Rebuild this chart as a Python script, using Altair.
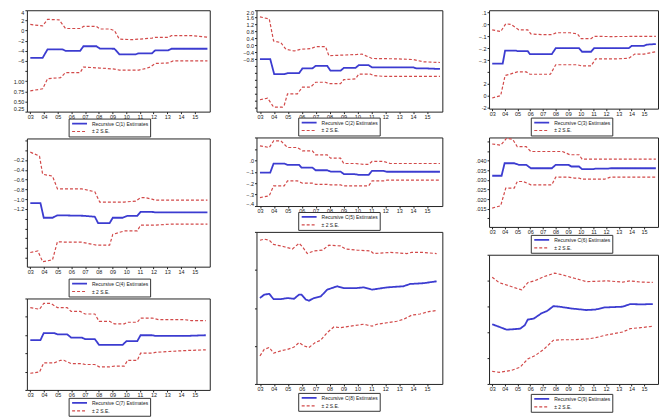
import altair as alt
import pandas as pd

YEAR_TICKS = list(range(2003, 2016))
X_DOMAIN = [2002.75, 2016.1]
BLUE = "#3c3cd0"
RED = "#d24a4a"
SE_LABEL = "± 2 S.E."
FONT = "Liberation Sans"

# ---- C(1)
C1_EST = [(2003.0, -5.4), (2003.9, -5.4), (2004.26, -3.7), (2005.33, -3.7), (2005.57, -4.0), (2006.64, -4.0),
          (2006.88, -3.1), (2007.83, -3.1), (2008.07, -3.55), (2009.14, -3.6), (2009.5, -4.7), (2010.69, -4.7),
          (2010.9, -4.5), (2011.88, -4.5), (2012.12, -3.9), (2013.07, -3.9), (2013.31, -3.6), (2015.93, -3.6)]
C1_UP = [(2003.0, 1.2), (2003.9, 0.9), (2004.26, 2.2), (2005.1, 2.1), (2005.57, 0.4), (2006.64, 0.4),
         (2006.88, 0.8), (2007.83, 0.8), (2008.07, 0.3), (2008.79, 0.3), (2009.14, 0.0), (2009.5, -1.7),
         (2010.45, -1.8), (2011.88, -1.5), (2012.12, -1.35), (2013.07, -1.35), (2013.31, -1.0), (2014.74, -1.0),
         (2015.93, -1.3)]
C1_LO = [(2003.0, -11.9), (2003.9, -11.5), (2004.26, -9.5), (2005.21, -9.3), (2005.57, -8.3), (2006.64, -8.3),
         (2006.88, -7.2), (2008.07, -7.4), (2009.14, -7.6), (2009.5, -7.8), (2010.93, -7.8), (2011.4, -7.5),
         (2011.76, -7.2), (2012.12, -6.5), (2013.07, -6.4), (2013.43, -6.0), (2015.93, -6.0)]
C1_TICKS = [4, 2, 0, -2, -4, -6, -8, -10, -12, -14, -16]
C1_GHOST = [(-10, "1.00"), (-12, "0.75"), (-14, "0.50"), (-16, "0.25")]

# ---- C(2)
C2_EST = [(2003, -0.8), (2003.74, -0.8), (2004.02, -1.65), (2004.74, -1.65), (2004.98, -1.6), (2005.81, -1.6),
          (2006.05, -1.33), (2006.76, -1.33), (2007.0, -1.18), (2007.83, -1.18), (2008.07, -1.46), (2008.79, -1.46),
          (2009.02, -1.3), (2009.86, -1.3), (2010.1, -1.14), (2010.81, -1.14), (2011.05, -1.27), (2014.02, -1.27),
          (2014.26, -1.33), (2014.98, -1.33), (2015.93, -1.36)]
C2_UP = [(2003, 1.62), (2003.67, 1.5), (2003.98, 0.24), (2004.5, 0.15), (2004.86, -0.23), (2005.45, -0.33),
         (2005.93, -0.23), (2006.64, -0.2), (2007.0, -0.08), (2007.71, -0.08), (2007.95, -0.6), (2009.14, -0.56),
         (2009.98, -0.53), (2010.33, -0.51), (2011.05, -0.76), (2012.83, -0.78), (2014.02, -0.82), (2014.74, -0.95),
         (2015.93, -0.99)]
C2_LO = [(2003, -3.12), (2003.55, -3.03), (2003.98, -3.54), (2004.62, -3.54), (2004.74, -3.44), (2004.98, -2.78),
         (2005.69, -2.78), (2006.05, -2.4), (2006.64, -2.4), (2007.0, -2.12), (2007.71, -2.12), (2007.95, -2.2),
         (2008.79, -2.2), (2009.02, -1.97), (2009.86, -1.93), (2010.1, -1.65), (2010.93, -1.65), (2011.17, -1.74),
         (2011.88, -1.78), (2015.93, -1.78)]
C2_TICKS = [2.0, 1.6, 1.2, 0.8, 0.4, 0.0, -0.4, -0.8, -1.2, -1.6, -2.0, -2.4, -2.8, -3.2, -3.6]

# ---- C(3)
C3_EST = [(2003, -0.33), (2003.83, -0.33), (2004.02, -0.22), (2004.86, -0.22), (2005.0, -0.225), (2005.81, -0.225),
          (2005.98, -0.25), (2007.71, -0.25), (2008.02, -0.2), (2009.86, -0.2), (2010.1, -0.23), (2010.81, -0.23),
          (2011.05, -0.2), (2013.79, -0.2), (2014.02, -0.18), (2014.98, -0.18), (2015.21, -0.17), (2015.93, -0.165)]
C3_UP = [(2003, -0.045), (2003.67, -0.06), (2004.07, 0.006), (2004.5, 0.0), (2005.1, -0.045), (2005.81, -0.045),
         (2006.05, -0.08), (2006.88, -0.085), (2007.71, -0.085), (2008.07, -0.07), (2009.14, -0.07), (2009.74, -0.08),
         (2010.02, -0.12), (2010.81, -0.12), (2011.05, -0.1), (2012.36, -0.102), (2015.93, -0.1)]
C3_LO = [(2003, -0.62), (2003.67, -0.6), (2004.02, -0.43), (2004.38, -0.42), (2004.98, -0.4), (2005.69, -0.4),
         (2005.98, -0.42), (2007.6, -0.42), (2008.02, -0.34), (2009.74, -0.34), (2010.1, -0.35), (2010.81, -0.35),
         (2011.17, -0.29), (2012.83, -0.29), (2013.79, -0.285), (2014.26, -0.25), (2014.98, -0.25), (2015.93, -0.23)]
C3_TICKS = [0.1, 0.0, -0.1, -0.2, -0.3, -0.4, -0.5, -0.6, -0.7]
C3_GHOST = [(-0.5, "2"), (-0.6, "0"), (-0.7, "-2")]

# ---- C(4)
C4_EST = [(2003, -1.08), (2003.74, -1.08), (2003.98, -1.38), (2004.62, -1.38), (2004.98, -1.33), (2006.88, -1.34),
          (2007.71, -1.36), (2007.95, -1.49), (2008.79, -1.49), (2009.02, -1.38), (2009.74, -1.38), (2010.1, -1.34),
          (2010.81, -1.34), (2011.05, -1.26), (2011.88, -1.26), (2012.12, -1.27), (2015.93, -1.27)]
C4_UP = [(2003, -0.04), (2003.67, -0.12), (2003.9, -0.49), (2004.62, -0.53), (2004.98, -0.79), (2006.76, -0.79),
         (2007.71, -0.85), (2008.07, -1.06), (2009.86, -1.06), (2010.69, -1.04), (2011.05, -0.97), (2011.4, -0.97),
         (2011.88, -1.0), (2012.12, -1.02), (2015.93, -1.02)]
C4_LO = [(2003, -2.09), (2003.55, -2.06), (2003.9, -2.28), (2004.62, -2.24), (2004.98, -1.87), (2005.69, -1.88),
         (2006.76, -1.88), (2007.83, -1.94), (2008.79, -1.94), (2009.02, -1.72), (2009.86, -1.65), (2010.81, -1.65),
         (2011.05, -1.53), (2012.12, -1.53), (2013.31, -1.51), (2015.93, -1.51)]
C4_TICKS = [0.2, 0.0, -0.2, -0.4, -0.6, -0.8, -1.0, -1.2, -1.4, -1.6, -1.8, -2.0, -2.2]

# ---- C(5)
C5_EST = [(2003, -0.107), (2003.74, -0.107), (2003.98, -0.028), (2004.74, -0.028), (2004.98, -0.04), (2005.81, -0.04),
          (2005.98, -0.063), (2006.76, -0.063), (2007.0, -0.087), (2007.83, -0.087), (2008.07, -0.098),
          (2008.79, -0.098), (2009.02, -0.12), (2009.74, -0.12), (2010.1, -0.127), (2010.81, -0.127),
          (2011.05, -0.092), (2011.88, -0.092), (2012.12, -0.1), (2015.93, -0.1)]
C5_UP = [(2003, 0.127), (2003.67, 0.112), (2003.98, 0.17), (2004.5, 0.17), (2004.98, 0.112), (2005.69, 0.112),
         (2006.05, 0.083), (2006.76, 0.083), (2007.0, 0.048), (2007.83, 0.048), (2008.07, 0.019), (2008.79, 0.019),
         (2009.02, -0.028), (2009.86, -0.028), (2010.45, -0.035), (2010.81, -0.035), (2011.05, -0.01),
         (2011.88, -0.01), (2012.36, -0.028), (2015.93, -0.028)]
C5_LO = [(2003, -0.326), (2003.67, -0.31), (2003.98, -0.224), (2004.74, -0.224), (2004.98, -0.18), (2005.69, -0.18),
         (2006.05, -0.2), (2006.76, -0.2), (2007.0, -0.21), (2007.83, -0.21), (2008.07, -0.215), (2008.79, -0.215),
         (2009.02, -0.224), (2010.81, -0.224), (2011.05, -0.18), (2011.88, -0.18), (2012.12, -0.174),
         (2015.93, -0.174)]
C5_TICKS = [0.2, 0.1, 0.0, -0.1, -0.2, -0.3, -0.4]

# ---- C(6)
C6_EST = [(2003, 0.0321), (2003.74, 0.0321), (2003.98, 0.0386), (2004.74, 0.0386), (2005.1, 0.0378),
          (2005.69, 0.0378), (2006.05, 0.036), (2007.71, 0.036), (2008.02, 0.0378), (2009.02, 0.0378),
          (2009.26, 0.0369), (2009.86, 0.0369), (2010.1, 0.0355), (2010.93, 0.0355), (2011.17, 0.0358),
          (2012.12, 0.0358), (2012.36, 0.036), (2015.93, 0.036)]
C6_UP = [(2003, 0.0486), (2003.67, 0.048), (2004.14, 0.0516), (2004.62, 0.051), (2004.98, 0.0472), (2005.69, 0.0472),
         (2006.05, 0.0447), (2007.71, 0.0447), (2008.55, 0.0447), (2009.14, 0.043), (2009.86, 0.043),
         (2010.1, 0.0407), (2015.93, 0.0407)]
C6_LO = [(2003, 0.0153), (2003.67, 0.0165), (2004.07, 0.0257), (2004.74, 0.0257), (2004.98, 0.0291),
         (2005.45, 0.0291), (2006.05, 0.0274), (2007.71, 0.0274), (2008.02, 0.0314), (2009.02, 0.0314),
         (2009.5, 0.0309), (2009.86, 0.0309), (2010.1, 0.0303), (2011.88, 0.0303), (2012.36, 0.0314),
         (2015.93, 0.0314)]
C6_TICKS = [0.010, 0.015, 0.020, 0.025, 0.030, 0.035, 0.040, 0.045, 0.050]

# ---- C(7)
C7_EST = [(2003, 2.72), (2003.74, 2.72), (2003.98, 3.11), (2004.74, 3.11), (2004.98, 3.04), (2005.69, 3.04),
          (2005.98, 2.86), (2006.76, 2.86), (2007.0, 2.78), (2007.71, 2.78), (2008.02, 2.46), (2009.74, 2.46),
          (2010.02, 2.67), (2010.81, 2.67), (2011.05, 2.99), (2011.88, 2.99), (2012.12, 2.95), (2014.26, 2.95),
          (2015.81, 2.99)]
C7_UP = [(2003, 4.5), (2003.67, 4.41), (2003.98, 4.73), (2004.5, 4.73), (2004.98, 4.5), (2005.69, 4.5),
         (2005.98, 4.29), (2006.64, 4.29), (2007.0, 4.15), (2007.71, 4.15), (2008.02, 3.75), (2008.79, 3.75),
         (2009.14, 3.61), (2009.86, 3.61), (2010.1, 3.7), (2010.81, 3.7), (2011.05, 3.93), (2011.88, 3.93),
         (2012.36, 3.84), (2014.26, 3.84), (2014.74, 3.79), (2015.81, 3.79)]
C7_LO = [(2003, 0.91), (2003.67, 0.98), (2003.98, 1.48), (2004.74, 1.48), (2005.21, 1.62), (2005.45, 1.62),
         (2005.98, 1.44), (2006.76, 1.44), (2007.0, 1.39), (2007.71, 1.39), (2008.02, 1.26), (2008.79, 1.26),
         (2009.14, 1.3), (2009.86, 1.3), (2010.1, 1.62), (2010.81, 1.62), (2011.05, 2.01), (2011.88, 2.01),
         (2012.12, 2.05), (2013.07, 2.1), (2014.26, 2.15), (2015.81, 2.19)]
C7_TICKS = [0, 1, 2, 3, 4, 5]

# ---- C(8)
C8_EST = [(2003, 2.26), (2003.31, 2.35), (2003.67, 2.37), (2003.98, 2.23), (2004.5, 2.23), (2004.98, 2.26),
          (2005.45, 2.24), (2005.81, 2.35), (2005.98, 2.35), (2006.29, 2.22), (2006.52, 2.19), (2006.88, 2.26),
          (2007.36, 2.3), (2007.83, 2.48), (2008.55, 2.57), (2009.02, 2.52), (2009.86, 2.52), (2010.45, 2.54),
          (2011.05, 2.48), (2011.4, 2.5), (2012.12, 2.54), (2013.31, 2.57), (2013.79, 2.63), (2014.74, 2.65),
          (2015.69, 2.7)]
C8_UP = [(2003, 3.78), (2003.31, 3.81), (2003.67, 3.78), (2003.98, 3.67), (2004.74, 3.61), (2005.33, 3.55),
         (2005.81, 3.7), (2006.05, 3.61), (2006.4, 3.43), (2006.88, 3.5), (2007.48, 3.52), (2007.95, 3.65),
         (2008.79, 3.63), (2009.14, 3.55), (2009.98, 3.52), (2010.93, 3.5), (2011.17, 3.43), (2012.36, 3.46),
         (2013.55, 3.43), (2013.9, 3.46), (2014.74, 3.46), (2015.69, 3.43)]
C8_LO = [(2003, 0.74), (2003.31, 0.91), (2003.67, 0.96), (2003.98, 0.81), (2004.5, 0.87), (2004.98, 0.91),
         (2005.45, 0.97), (2005.81, 1.09), (2006.17, 1.0), (2006.52, 0.96), (2006.98, 1.09), (2007.36, 1.15),
         (2007.83, 1.35), (2008.31, 1.5), (2008.79, 1.48), (2009.5, 1.52), (2010.45, 1.57), (2010.69, 1.55),
         (2011.05, 1.52), (2011.4, 1.57), (2012.12, 1.61), (2012.83, 1.65), (2013.31, 1.7), (2013.9, 1.81),
         (2014.5, 1.84), (2015.21, 1.91), (2015.69, 1.93)]
C8_TICKS = [0, 1, 2, 3, 4]

# ---- C(9)
C9_EST = [(2003, 2.31), (2003.55, 2.21), (2004.14, 2.1), (2004.74, 2.12), (2005.21, 2.14), (2005.57, 2.27),
          (2005.81, 2.49), (2006.29, 2.53), (2006.88, 2.73), (2007.36, 2.83), (2007.83, 3.01), (2008.31, 2.99),
          (2009.26, 2.92), (2010.45, 2.86), (2011.17, 2.88), (2011.88, 2.96), (2013.31, 2.99), (2013.9, 3.09),
          (2014.74, 3.08), (2015.69, 3.09)]
C9_UP = [(2003, 4.13), (2003.55, 3.92), (2004.5, 3.77), (2005.33, 3.64), (2005.81, 3.92), (2006.4, 4.0),
         (2007.12, 4.16), (2007.95, 4.29), (2008.55, 4.22), (2009.5, 4.09), (2010.45, 3.96), (2012.12, 3.99),
         (2013.31, 3.94), (2013.9, 3.99), (2014.74, 3.94), (2015.69, 3.93)]
C9_LO = [(2003, 0.49), (2003.55, 0.45), (2004.5, 0.52), (2005.21, 0.65), (2005.81, 0.97), (2006.4, 1.1),
         (2007.12, 1.36), (2007.83, 1.69), (2008.55, 1.71), (2009.5, 1.71), (2010.69, 1.75), (2011.17, 1.79),
         (2011.88, 1.88), (2013.31, 2.01), (2013.9, 2.14), (2014.74, 2.18), (2015.69, 2.23)]
C9_TICKS = [0, 1, 2, 3, 4, 5]


def ghost_expr(pairs, fallback):
    expr = fallback
    for val, txt in reversed(pairs):
        expr = f"abs(datum.value - ({val})) < 0.0001 ? '{txt}' : ({expr})"
    return expr


NO_LABEL = "''"
LBL = {
    1: "datum.value >= -6.01 ? format(datum.value, 'd') : (" + ghost_expr(C1_GHOST, "''") + ")",
    2: "datum.value >= -0.81 ? format(datum.value, '.1f') : ''",
    3: "datum.value >= -0.31 ? replace(format(datum.value, '.1f'), '0.', '.') : (" + ghost_expr(C3_GHOST, "''") + ")",
    4: "(datum.value <= -0.19 && datum.value >= -1.21) ? format(datum.value, '.1f') : ''",
    5: "datum.value <= 0.001 ? replace(format(datum.value, '.1f'), '0.', '.') : ''",
    6: "(datum.value >= 0.0149 && datum.value <= 0.0401) ? replace(format(datum.value, '.3f'), '0.', '.') : ''",
    7: NO_LABEL, 8: NO_LABEL, 9: NO_LABEL,
}


def panel(k, est, up, lo, w, h, ydom, yticks, legend_y):
    est_label = f"Recursive C({k}) Estimates"
    rows = [dict(t=t, v=v, s=est_label, part="est") for t, v in est]
    rows += [dict(t=t, v=v, s=SE_LABEL, part="up") for t, v in up]
    rows += [dict(t=t, v=v, s=SE_LABEL, part="lo") for t, v in lo]
    df = pd.DataFrame(rows)
    dom = [est_label, SE_LABEL]
    leg = alt.Legend(title=None, orient="none", legendX=42, legendY=legend_y, direction="vertical",
                     symbolType="M-3,0H3", symbolSize=25, labelFontSize=5, labelFont=FONT,
                     labelColor="#222", strokeColor="#333", fillColor="white", padding=1.5,
                     rowPadding=0, symbolOffset=6, labelOffset=9, labelLimit=200)
    return alt.Chart(df).mark_line(clip=True).encode(
        x=alt.X("t:Q", scale=alt.Scale(domain=X_DOMAIN, nice=False, zero=False),
                axis=alt.Axis(values=YEAR_TICKS, title=None, grid=False,
                              labelExpr="substring(toString(datum.value), 2, 4)")),
        y=alt.Y("v:Q", scale=alt.Scale(domain=ydom, nice=False, zero=False),
                axis=alt.Axis(values=yticks, title=None, grid=False, labelExpr=LBL[k],
                              labelFlush=True, labelOverlap=False)),
        color=alt.Color("s:N", scale=alt.Scale(domain=dom, range=[BLUE, RED]), legend=leg),
        strokeDash=alt.StrokeDash("s:N", scale=alt.Scale(domain=dom, range=[[1, 0], [3, 2]]), legend=leg),
        strokeWidth=alt.StrokeWidth("s:N", scale=alt.Scale(domain=dom, range=[1.8, 1.2]), legend=leg),
        detail="part:N",
    ).properties(width=w, height=h)


def column(charts, spacing):
    return alt.vconcat(*charts, spacing=spacing).resolve_scale(
        color="independent", strokeDash="independent", strokeWidth="independent"
    ).resolve_legend(color="independent", strokeDash="independent", strokeWidth="independent")


col1 = column([
    panel(1, C1_EST, C1_UP, C1_LO, 184, 102, [-16, 4], C1_TICKS, 109),
    panel(4, C4_EST, C4_UP, C4_LO, 184, 129, [-2.38, 0.24], C4_TICKS, 141),
    panel(7, C7_EST, C7_UP, C7_LO, 184, 92, [0, 5], C7_TICKS, 100),
], 0)
col2 = column([
    panel(2, C2_EST, C2_UP, C2_LO, 187, 102, [-3.8, 2.0], C2_TICKS, 108),
    panel(5, C5_EST, C5_UP, C5_LO, 187, 69, [-0.4, 0.2], C5_TICKS, 75),
    panel(8, C8_EST, C8_UP, C8_LO, 187, 153, [0, 4], C8_TICKS, 162),
], 0)
col3 = column([
    panel(3, C3_EST, C3_UP, C3_LO, 170, 99, [-0.71, 0.12], C3_TICKS, 108),
    panel(6, C6_EST, C6_UP, C6_LO, 170, 90, [0.0055, 0.052], C6_TICKS, 98),
    panel(9, C9_EST, C9_UP, C9_LO, 170, 130, [0, 5], C9_TICKS, 140),
], 0)

chart = alt.hconcat(col1, col2, col3, spacing=27).resolve_scale(
    color="independent", strokeDash="independent", strokeWidth="independent"
).resolve_legend(color="independent", strokeDash="independent", strokeWidth="independent").properties(
    padding=0, background="white"
).configure_view(stroke="#222", strokeWidth=1).configure_axis(
    labelFont=FONT, labelFontSize=5.5, labelColor="#222", tickColor="#222", tickSize=2,
    labelPadding=1, domain=False
).configure_axisY(minExtent=18, maxExtent=18)

chart.save("out.html", embed_options={"renderer": "svg", "actions": False})
